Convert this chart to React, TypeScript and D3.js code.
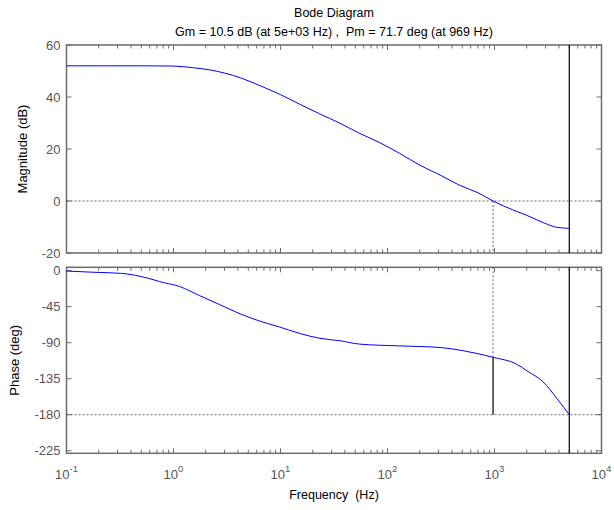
import { useEffect, useRef } from 'react';
import * as d3 from 'd3';

// values
const magFreq = [0.1, 0.2, 0.5, 1, 1.5, 2.2, 3, 4.2, 6.4, 10, 15, 23, 36, 55, 85, 130, 200, 310, 475, 700, 969, 1500, 2000, 2850, 3800, 5000];
const magDb = [52, 52, 52, 51.9, 51.3, 50.4, 49.2, 47.4, 44.4, 40.9, 37.3, 33.6, 29.9, 26, 22.4, 18.3, 13.8, 10, 6, 3.2, 0, -3.5, -5.5, -8.3, -10.1, -10.5];

const phaseFreq = [0.1, 0.18, 0.32, 0.6, 0.74, 1.14, 1.76, 2.7, 4.2, 6.4, 9.8, 15, 23, 36, 55, 130, 310, 510, 969, 1600, 2000, 2850, 3800, 5000];
const phaseDeg = [-0.5, -2, -3.3, -10, -13.6, -19.8, -31.3, -42.4, -54, -63, -70.4, -78.3, -84.4, -87.6, -91.8, -94, -96, -100, -108.3, -116.6, -125, -139, -159, -180];

const magTicks = [60, 40, 20, 0, -20];
const phaseTicks = [0, -45, -90, -135, -180, -225];
const decadeExps = [-1, 0, 1, 2, 3, 4];

const gmFreq = 5000;
const pmFreq = 969;
const pmPhase = -108.3;

const titleText = 'Bode Diagram';
const subTitle = 'Gm = 10.5 dB (at 5e+03 Hz) ,  Pm = 71.7 deg (at 969 Hz)';

const W = 614, H = 510;
const left = 66.5, right = 601.5;
const font = '"Liberation Sans", Arial, sans-serif';
const axisGray = '#6b6b6b';
const labelGray = '#555';

export default function App() {
  const ref = useRef<SVGSVGElement>(null);

  useEffect(() => {
    const svg = d3.select(ref.current);
    svg.selectAll('*').remove();

    const x = d3.scaleLog().domain([0.1, 10000]).range([left, right]);
    const yMag = d3.scaleLinear().domain([60, -20]).range([45, 253]);
    const yPh = d3.scaleLinear().domain([4.2, -228.2]).range([267.3, 453.3]);

    svg.append('rect').attr('width', W).attr('height', H).attr('fill', '#fff');

    // titles
    svg.append('text').attr('x', (left + right) / 2).attr('y', 17)
      .attr('text-anchor', 'middle').style('font', `12.5px ${font}`).text(titleText);
    svg.append('text').attr('x', (left + right) / 2).attr('y', 36)
      .attr('text-anchor', 'middle').style('font', `12.5px ${font}`)
      .style('white-space', 'pre').text(subTitle);

    const minorTicks: number[] = [];
    for (let e = -1; e < 4; e++) {
      for (let m = 2; m <= 9; m++) minorTicks.push(m * Math.pow(10, e));
    }

    function panel(y: d3.ScaleLinear<number, number>, ticks: number[], label: string, labelX: number) {
      const [top, bottom] = [y.range()[0], y.range()[1]];
      const g = svg.append('g');

      // ticks along the frame
      for (const t of ticks) {
        g.append('line').attr('x1', left).attr('x2', left + 5).attr('y1', y(t)).attr('y2', y(t))
          .attr('stroke', axisGray);
        g.append('line').attr('x1', right).attr('x2', right - 5).attr('y1', y(t)).attr('y2', y(t))
          .attr('stroke', axisGray);
        g.append('text').attr('x', left - 6).attr('y', y(t)).attr('dy', '0.35em')
          .attr('text-anchor', 'end').attr('fill', labelGray).style('font', `13px ${font}`).text(t);
      }
      for (const f of minorTicks) {
        for (const [y0, dir] of [[top, 1], [bottom, -1]] as [number, number][]) {
          g.append('line').attr('x1', x(f)).attr('x2', x(f)).attr('y1', y0).attr('y2', y0 + dir * 3.5)
            .attr('stroke', axisGray).attr('stroke-width', 1);
        }
      }
      for (const e of decadeExps) {
        const f = Math.pow(10, e);
        for (const [y0, dir] of [[top, 1], [bottom, -1]] as [number, number][]) {
          g.append('line').attr('x1', x(f)).attr('x2', x(f)).attr('y1', y0).attr('y2', y0 + dir * 5)
            .attr('stroke', axisGray);
        }
      }

      g.append('rect').attr('x', left).attr('y', top).attr('width', right - left).attr('height', bottom - top)
        .attr('fill', 'none').attr('stroke', axisGray).attr('stroke-width', 1.5);

      g.append('text')
        .attr('transform', `translate(${labelX},${(top + bottom) / 2}) rotate(-90)`)
        .attr('text-anchor', 'middle').style('font', `13px ${font}`).text(label);
      return g;
    }

    const gMag = panel(yMag, magTicks, 'Magnitude (dB)', 27);
    const gPh = panel(yPh, phaseTicks, 'Phase (deg)', 19);

    const dotted = (g: any, x1: number, x2: number, y1: number, y2: number) =>
      g.append('line').attr('x1', x1).attr('x2', x2).attr('y1', y1).attr('y2', y2)
        .attr('stroke', '#444').attr('stroke-width', 0.8).attr('stroke-dasharray', '2,2');

    // magnitude panel markers
    dotted(gMag, left, right, yMag(0), yMag(0));
    dotted(gMag, x(pmFreq), x(pmFreq), yMag(0), yMag(-20));
    gMag.append('line').attr('x1', x(gmFreq)).attr('x2', x(gmFreq)).attr('y1', yMag(60)).attr('y2', yMag(-20))
      .attr('stroke', '#000').attr('stroke-width', 1.2);

    const magLine = d3.line<number>()
      .x((_, i) => x(magFreq[i])).y(d => yMag(d)).curve(d3.curveMonotoneX);
    gMag.append('path').attr('d', magLine(magDb)).attr('fill', 'none').attr('stroke', '#0000ff').attr('stroke-width', 1);

    // phase panel markers
    dotted(gPh, left, right, yPh(-180), yPh(-180));
    dotted(gPh, x(pmFreq), x(pmFreq), yPh.range()[0], yPh(pmPhase));
    gPh.append('line').attr('x1', x(pmFreq)).attr('x2', x(pmFreq)).attr('y1', yPh(pmPhase)).attr('y2', yPh(-180))
      .attr('stroke', '#000').attr('stroke-width', 1.2);
    gPh.append('line').attr('x1', x(gmFreq)).attr('x2', x(gmFreq)).attr('y1', yPh.range()[0]).attr('y2', yPh.range()[1])
      .attr('stroke', '#000').attr('stroke-width', 1.2);

    const phLine = d3.line<number>()
      .x((_, i) => x(phaseFreq[i])).y(d => yPh(d)).curve(d3.curveMonotoneX);
    gPh.append('path').attr('d', phLine(phaseDeg)).attr('fill', 'none').attr('stroke', '#0000ff').attr('stroke-width', 1);

    // x tick labels 10^n
    for (const e of decadeExps) {
      const t = svg.append('text').attr('x', x(Math.pow(10, e))).attr('y', 479)
        .attr('text-anchor', 'middle').attr('fill', labelGray).style('font', `13px ${font}`);
      t.append('tspan').text('10');
      t.append('tspan').attr('dy', -7).style('font-size', '9.5px').text(String(e));
    }

    svg.append('text').attr('x', (left + right) / 2).attr('y', 499)
      .attr('text-anchor', 'middle').style('font', `12.5px ${font}`).style('white-space', 'pre')
      .text('Frequency  (Hz)');
  }, []);

  return <svg ref={ref} width={W} height={H} style={{ position: 'absolute', left: 0, top: 0 }} />;
}
